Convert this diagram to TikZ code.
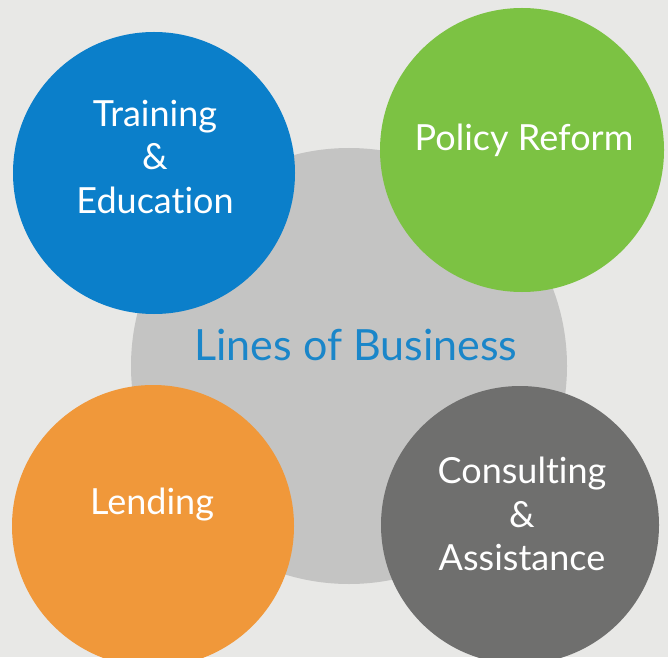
\documentclass[tikz,border=0pt]{standalone}
\usepackage{fontspec}
\setmainfont{Lato}[Ligatures=NoCommon]
\usepackage{xcolor}
\usepackage{tikz}
\definecolor{paper}{HTML}{E8E8E6}
\definecolor{hubgrey}{HTML}{C4C4C3}
\definecolor{lobblue}{HTML}{0B7FCA}
\definecolor{lobgreen}{HTML}{7CC243}
\definecolor{loborange}{HTML}{F0983A}
\definecolor{lobgrey}{HTML}{6F6F6E}
\definecolor{hubtext}{HTML}{1A86C9}

\tikzset{
  lob/.style={circle,draw=none,inner sep=0pt,text=white,align=center,
    font=\fontsize{36}{43.5}\selectfont}
}

\begin{document}
\begin{tikzpicture}[x=1pt,y=1pt]
\fill[paper] (0,0) rectangle (668,657);
\useasboundingbox (0,0) rectangle (668,657);
\node[circle,fill=hubgrey,minimum size=436pt,inner sep=0pt] (hub) at (349,291) {};
\node[text=hubtext,font=\fontsize{43}{50}\selectfont] (title) at (356,312) {Lines of Business};
\node[lob,fill=lobblue,minimum size=282pt] (train) at (154,484) {};
\node[lob] (traintxt) at (155,500) {Training\\\&\\Education};
\node[lob,fill=lobgreen,minimum size=284pt] (policy) at (522,507) {};
\node[lob] (policytxt) at (524,517) {Policy Reform};
\node[lob,fill=loborange,minimum size=282pt] (lend) at (153,131) {};
\node[lob] (lendtxt) at (152,152) {Lending};
\node[lob,fill=lobgrey,minimum size=278pt] (consult) at (520,132) {};
\node[lob] (consulttxt) at (522,143) {Consulting\\\&\\Assistance};
\end{tikzpicture}
\end{document}
